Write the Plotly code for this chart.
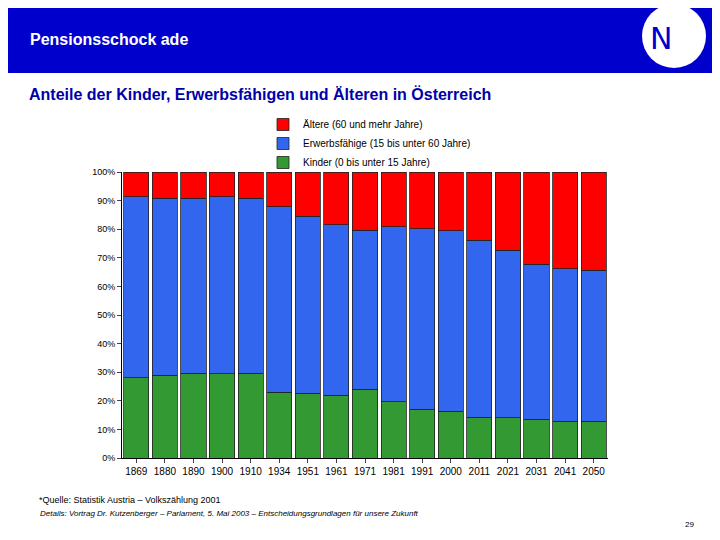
import plotly.graph_objects as go

years = ["1869", "1880", "1890", "1900", "1910", "1934", "1951", "1961", "1971",
         "1981", "1991", "2000", "2011", "2021", "2031", "2041", "2050"]
# Anteile in Prozent
kinder = [28.0, 29.0, 29.7, 29.4, 29.7, 23.0, 22.7, 22.0, 24.0,
          19.6, 17.1, 16.4, 14.3, 14.0, 13.6, 12.9, 12.9]
kumuliert = [91.3, 90.9, 90.9, 91.3, 90.9, 87.8, 84.6, 81.5, 79.7,
             80.8, 80.1, 79.4, 76.2, 72.7, 67.8, 66.1, 65.7]
erwerb = [round(k - g, 1) for k, g in zip(kumuliert, kinder)]
aeltere = [round(100 - k, 1) for k in kumuliert]

fig = go.Figure()
fig.add_bar(x=years, y=kinder, name="Kinder (0 bis unter 15 Jahre)",
            marker=dict(color="#339933", line=dict(color="#222", width=0.8)))
fig.add_bar(x=years, y=erwerb, name="Erwerbsfähige (15 bis unter 60 Jahre)",
            marker=dict(color="#3366ee", line=dict(color="#222", width=0.8)))
fig.add_bar(x=years, y=aeltere, name="Ältere (60 und mehr Jahre)",
            marker=dict(color="#ff0000", line=dict(color="#222", width=0.8)))

H = 286.0  # Plot-Höhe in Pixel
def py(p):
    return (458 - p) / H

def px_(p):
    return (p - 121) / 486

fig.update_layout(
    barmode="stack", bargap=0.12,
    width=713, height=532, margin=dict(l=114, r=113, t=164, b=82, autoexpand=False),
    paper_bgcolor="white", plot_bgcolor="white",
    font=dict(family="Arial, Liberation Sans", size=10, color="black"),
    showlegend=True,
    legend=dict(x=px_(262), y=py(110), xanchor="left", yanchor="top", traceorder="reversed",
                font=dict(size=10), bgcolor="rgba(0,0,0,0)", tracegroupgap=0, itemwidth=30),
    xaxis=dict(showline=True, linecolor="black", ticks="outside", ticklen=4,
               tickfont=dict(size=10), automargin=False),
    yaxis=dict(range=[0, 100], tickvals=list(range(0, 101, 10)),
               ticktext=[f"{v}%" for v in range(0, 101, 10)],
               showgrid=False, showline=True, linecolor="black", ticks="outside", ticklen=4,
               tickfont=dict(size=9), automargin=False),
    shapes=[dict(type="rect", xref="paper", yref="paper", x0=-0.3, x1=1.3, y0=py(73), y1=py(-10),
                 fillcolor="#0000cc", line=dict(width=0)),
            dict(type="circle", xref="paper", yref="paper",
                 x0=px_(641), x1=px_(705), y0=py(68), y1=py(4),
                 fillcolor="white", line=dict(color="white", width=0))],
    annotations=[
        dict(text="<b>Pensionsschock ade</b>", xref="paper", yref="paper", x=px_(27), y=py(39),
             xanchor="left", yanchor="middle", showarrow=False,
             font=dict(size=16, color="white", family="Arial, Liberation Sans")),
        dict(text="<b>Anteile der Kinder, Erwerbsfähigen und Älteren in Österreich</b>",
             xref="paper", yref="paper", x=px_(26), y=py(94), xanchor="left",
             yanchor="middle", showarrow=False,
             font=dict(size=16, color="#0000aa", family="Arial, Liberation Sans")),
        dict(text="N", xref="paper", yref="paper", x=px_(673), y=py(38), yanchor="middle",
             showarrow=False,
             font=dict(size=30, color="#0000cc", family="Arial Black, DejaVu Sans")),
        dict(text="*Quelle: Statistik Austria – Volkszählung 2001", xref="paper", yref="paper",
             x=px_(36), y=py(500), xanchor="left", yanchor="middle", showarrow=False,
             font=dict(size=9)),
        dict(text="<i>Details: Vortrag Dr. Kutzenberger – Parlament, 5. Mai 2003 – Entscheidungsgrundlagen für unsere Zukunft</i>",
             xref="paper", yref="paper", x=px_(37), y=py(513), xanchor="left",
             yanchor="middle", showarrow=False, font=dict(size=8)),
        dict(text="29", xref="paper", yref="paper", x=px_(695), y=py(524),
             yanchor="middle", showarrow=False, font=dict(size=8)),
    ],
)

fig.write_html("out.html")
